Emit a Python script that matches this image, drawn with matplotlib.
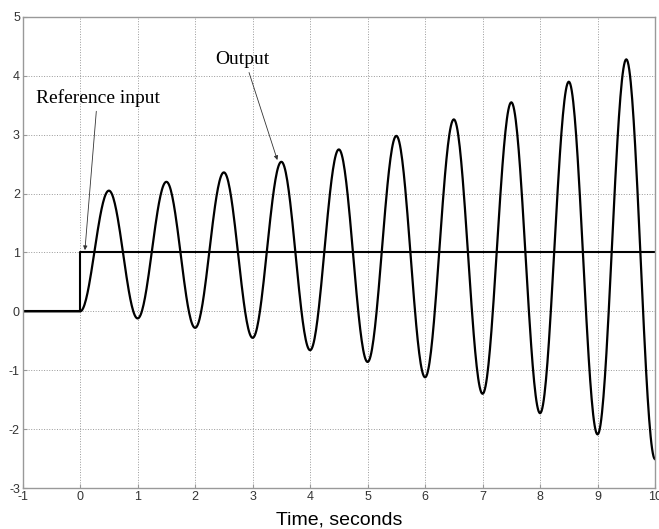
import numpy as np
import matplotlib
matplotlib.use("Agg")
import matplotlib.pyplot as plt

plt.rcParams["axes.unicode_minus"] = False

# reference input (unit step at t=0)
ref_t = [-1, 0, 0, 10]
ref_y = [0, 0, 1, 1]

# output: turning points (peaks at x.5, troughs at whole seconds)
ext_t = [-1, 0, 0.5, 1.0, 1.5, 2.0, 2.5, 3.0, 3.5, 4.0, 4.5, 5.0, 5.5,
         6.0, 6.5, 7.0, 7.5, 8.0, 8.5, 9.0, 9.5, 10.0]
ext_y = [0, 0, 2.05, -0.12, 2.20, -0.28, 2.36, -0.45, 2.54, -0.66, 2.75, -0.86, 2.98,
         -1.12, 3.26, -1.40, 3.55, -1.73, 3.90, -2.09, 4.28, -2.51]

xticks = list(range(-1, 11))
yticks = list(range(-3, 6))

# join turning points with half-cosine arcs so the curve stays smooth
out_t, out_y = [], []
for i in range(len(ext_t) - 1):
    s = np.linspace(0, 1, 40)
    a, b = ext_y[i], ext_y[i + 1]
    out_t.extend(ext_t[i] + (ext_t[i + 1] - ext_t[i]) * s)
    out_y.extend(a + (b - a) * (1 - np.cos(np.pi * s)) / 2)

fig = plt.figure(figsize=(6.59, 5.29), dpi=100)
ax = fig.add_axes([0.0344, 0.0775, 0.9596, 0.8905])

ax.plot(ref_t, ref_y, color="black", lw=1.5)
ax.plot(out_t, out_y, color="black", lw=1.6)

ax.set_xlim(-1, 10)
ax.set_ylim(-3, 5)
ax.set_xticks(xticks)
ax.set_yticks(yticks)
ax.grid(True, linestyle=":", color="#999999", lw=0.7)
ax.tick_params(direction="in", length=3, colors="#999999", labelcolor="#333333",
               labelsize=9, pad=2)
for lab in ax.get_xticklabels() + ax.get_yticklabels():
    lab.set_family("Liberation Sans")
for sp in ax.spines.values():
    sp.set_color("#999999")
    sp.set_linewidth(1.0)

ax.set_xlabel("Time, seconds", fontsize=14, family="Liberation Sans", labelpad=6)

serif = "Liberation Serif"
ax.annotate("Reference input", xy=(0.083, 1.04), xytext=(-0.77, 3.62),
            fontsize=14, family=serif, va="center", ha="left",
            arrowprops=dict(arrowstyle="-|>", color="#333333", lw=0.6,
                            mutation_scale=6, shrinkA=1, shrinkB=0,
                            relpos=(0.49, 0)))
ax.annotate("Output", xy=(3.43, 2.57), xytext=(2.82, 4.27),
            fontsize=14, family=serif, va="center", ha="center",
            arrowprops=dict(arrowstyle="-|>", color="#333333", lw=0.6,
                            mutation_scale=6, shrinkA=1, shrinkB=0,
                            relpos=(0.6, 0)))

fig.savefig("out.png", dpi=100)
